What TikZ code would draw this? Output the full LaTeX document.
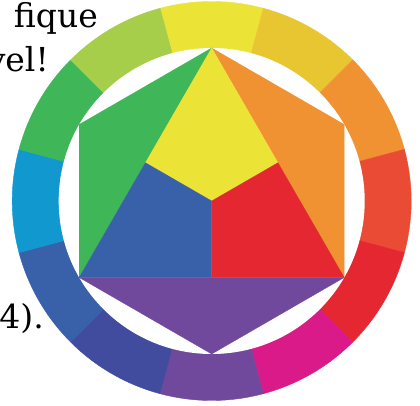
\documentclass[tikz,border=0pt]{standalone}
\usepackage{fontspec}
\newfontfamily\bgfont{DejaVu Serif}
\definecolor{cyel}{HTML}{EBE335}
\definecolor{cgold}{HTML}{E8C631}
\definecolor{corange}{HTML}{F09232}
\definecolor{credor}{HTML}{E94B34}
\definecolor{cred}{HTML}{E52731}
\definecolor{cmag}{HTML}{DB1A8A}
\definecolor{cviol}{HTML}{71499C}
\definecolor{cindigo}{HTML}{414C9F}
\definecolor{cblue}{HTML}{3961A9}
\definecolor{ccyan}{HTML}{1098CF}
\definecolor{cgreen}{HTML}{3FB658}
\definecolor{cyg}{HTML}{A6CE4A}
\tikzset{
  bgtext/.style={anchor=base east, inner sep=0pt, font=\bgfont\fontsize{33}{40}\selectfont},
  seg/.style={fill=#1, draw=#1, line width=0.4pt},
  part/.style={fill=#1, draw=#1, line width=0.3pt, line join=round}
}
\begin{document}
\begin{tikzpicture}[x=1pt,y=1pt]
\useasboundingbox (0,0) rectangle (420,405);
\clip (0,0) rectangle (420,405);
\fill[white] (0,0) rectangle (420,405);
\node[bgtext] (t1) at (98,377) {fique};
\node[bgtext] (t2) at (49,333) {vel!};
\node[bgtext] (t3) at (44,77) {14).};
\coordinate (O) at (211.7,204);
\foreach \a/\c in {90/cyel,60/cgold,30/corange,0/credor,-30/cred,-60/cmag,-90/cviol,-120/cindigo,-150/cblue,180/ccyan,150/cgreen,120/cyg}{
  \filldraw[seg=\c, shift={(O)}] (0,0) -- (\a-15:199.5) arc[start angle=\a-15, end angle=\a+15, radius=199.5] -- cycle;
}
\fill[white] (O) circle[radius=153];
\path (O) ++(90:153) coordinate (H1);
\path (O) ++(30:153) coordinate (H2);
\path (O) ++(-30:153) coordinate (H3);
\path (O) ++(-90:153) coordinate (H4);
\path (O) ++(-150:153) coordinate (H5);
\path (O) ++(150:153) coordinate (H6);
\path (H1) -- (H3) coordinate[pos=0.5] (M13);
\path (H3) -- (H5) coordinate[pos=0.5] (M35);
\path (H5) -- (H1) coordinate[pos=0.5] (M51);
\filldraw[part=cgreen] (H1) -- (H6) -- (H5) -- cycle;
\filldraw[part=corange] (H1) -- (H2) -- (H3) -- cycle;
\filldraw[part=cviol] (H5) -- (H3) -- (H4) -- cycle;
\filldraw[part=cyel] (H1) -- (M51) -- (O) -- (M13) -- cycle;
\filldraw[part=cblue] (M51) -- (O) -- (M35) -- (H5) -- cycle;
\filldraw[part=cred] (O) -- (M13) -- (H3) -- (M35) -- cycle;
\end{tikzpicture}
\end{document}
